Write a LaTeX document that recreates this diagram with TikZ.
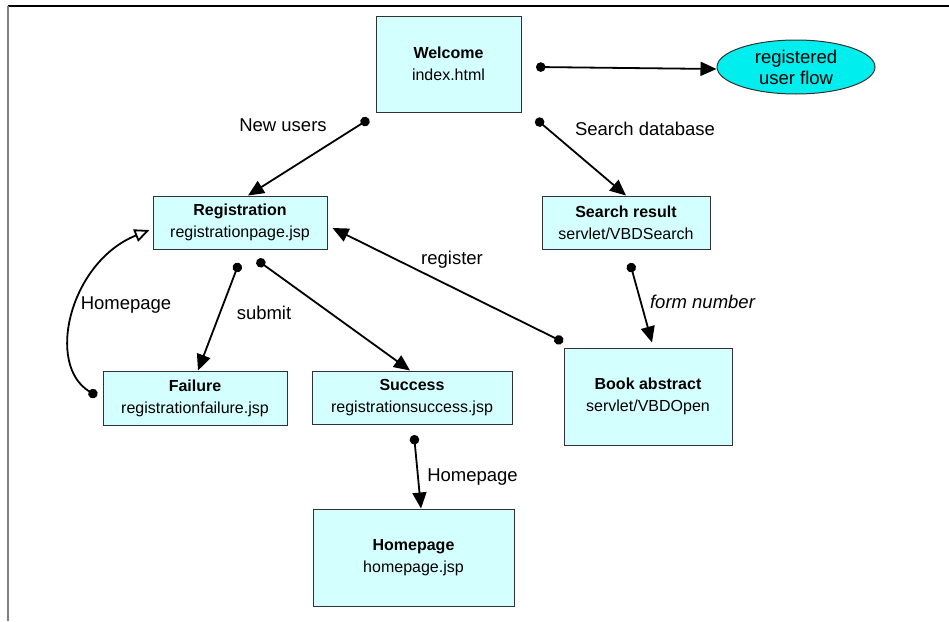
\documentclass[tikz,border=0pt]{standalone}
\usepackage{fontspec}
\setmainfont{Liberation Sans}
\usetikzlibrary{arrows.meta,shapes.geometric}
\definecolor{boxfill}{RGB}{212,255,255}
\definecolor{ellfill}{RGB}{0,238,238}
\definecolor{boxline}{RGB}{50,50,50}
\tikzset{
  pagebox/.style={draw=boxline, line width=1pt, fill=boxfill, align=center, inner sep=0pt,
    font=\fontsize{16}{22}\selectfont},
  lbl/.style={font=\fontsize{18.5}{21}\selectfont, inner sep=0pt},
  conn/.style={line width=1.8pt, {Circle[length=9.5pt]}-{Triangle[length=16pt,width=14pt]}},
  backconn/.style={line width=1.8pt, {Circle[length=9.5pt]}-{Triangle[open,length=15pt,width=13pt,fill=white]}}
}
\begin{document}
\begin{tikzpicture}[x=1pt,y=-1pt]
\useasboundingbox (0,0) rectangle (949,621);
\draw[black, line width=1.5pt] (8,6) -- (949,6);
\draw[gray, line width=2pt] (8,6) -- (8,621);

\node[pagebox, minimum width=145pt, minimum height=96pt] (wel) at (448.5,64) {\textbf{Welcome}\\index.html};
\node[pagebox, minimum width=174pt, minimum height=53pt] (reg) at (240,222.5) {\textbf{Registration}\\registrationpage.jsp};
\node[pagebox, minimum width=168pt, minimum height=53pt] (srch) at (626,222.5) {\textbf{Search result}\\servlet/VBDSearch};
\node[pagebox, minimum width=184pt, minimum height=54pt] (fail) at (195,398) {\textbf{Failure}\\registrationfailure.jsp};
\node[pagebox, minimum width=200pt, minimum height=53pt] (succ) at (412,397.5) {\textbf{Success}\\registrationsuccess.jsp};
\node[pagebox, minimum width=168pt, minimum height=97pt] (book) at (648,396.5) {\textbf{Book abstract}\\servlet/VBDOpen};
\node[pagebox, minimum width=201pt, minimum height=97pt] (home) at (413.5,557.5) {\textbf{Homepage}\\homepage.jsp};
\node[ellipse, draw=boxline, line width=1pt, fill=ellfill, minimum width=158pt, minimum height=54pt, inner sep=0pt, align=center, font=\fontsize{18.5}{21}\selectfont] (ell) at (796,67) {registered\\user flow};

\coordinate (dwel) at (536,67);
\coordinate (dnew) at (369,119);
\coordinate (dsrch) at (536,119);
\coordinate (dfail) at (239,263);
\coordinate (dsucc) at (257,260);
\coordinate (dreg) at (563,342);
\coordinate (dform) at (630,263);
\coordinate (dhome) at (414,435);
\coordinate (dback) at (97,396);

\draw[conn] (dwel) -- ([yshift=-2pt]ell.west);
\draw[conn] (dnew) -- ([xshift=8pt]reg.north);
\draw[conn] (dsrch) -- (srch.north);
\draw[conn] (dfail) -- ([xshift=3pt]fail.north);
\draw[conn] (dsucc) -- ([xshift=-2pt]succ.north);
\draw[conn] (dreg) -- ([xshift=5pt,yshift=-5.5pt]reg.east);
\draw[conn] (dform) -- ([xshift=4pt,yshift=5pt]book.north);
\draw[conn] (dhome) -- ([xshift=7.5pt]home.north);
\draw[backconn] (dback) .. controls (45,365) and (70,262) .. ([xshift=-3pt,yshift=-7.5pt]reg.west);

\node[lbl] (lnew) at (283,125) {New users};
\node[lbl] (lsrch) at (645,129) {Search database};
\node[lbl] (lsub) at (264,313) {submit};
\node[lbl] (lhp1) at (126,305) {Homepage};
\node[lbl] (lregi) at (452,260) {register};
\node[lbl, font=\fontsize{18.5}{21}\selectfont\itshape] (lform) at (702.5,302) {form number};
\node[lbl] (lhp2) at (472.5,477) {Homepage};
\end{tikzpicture}
\end{document}
